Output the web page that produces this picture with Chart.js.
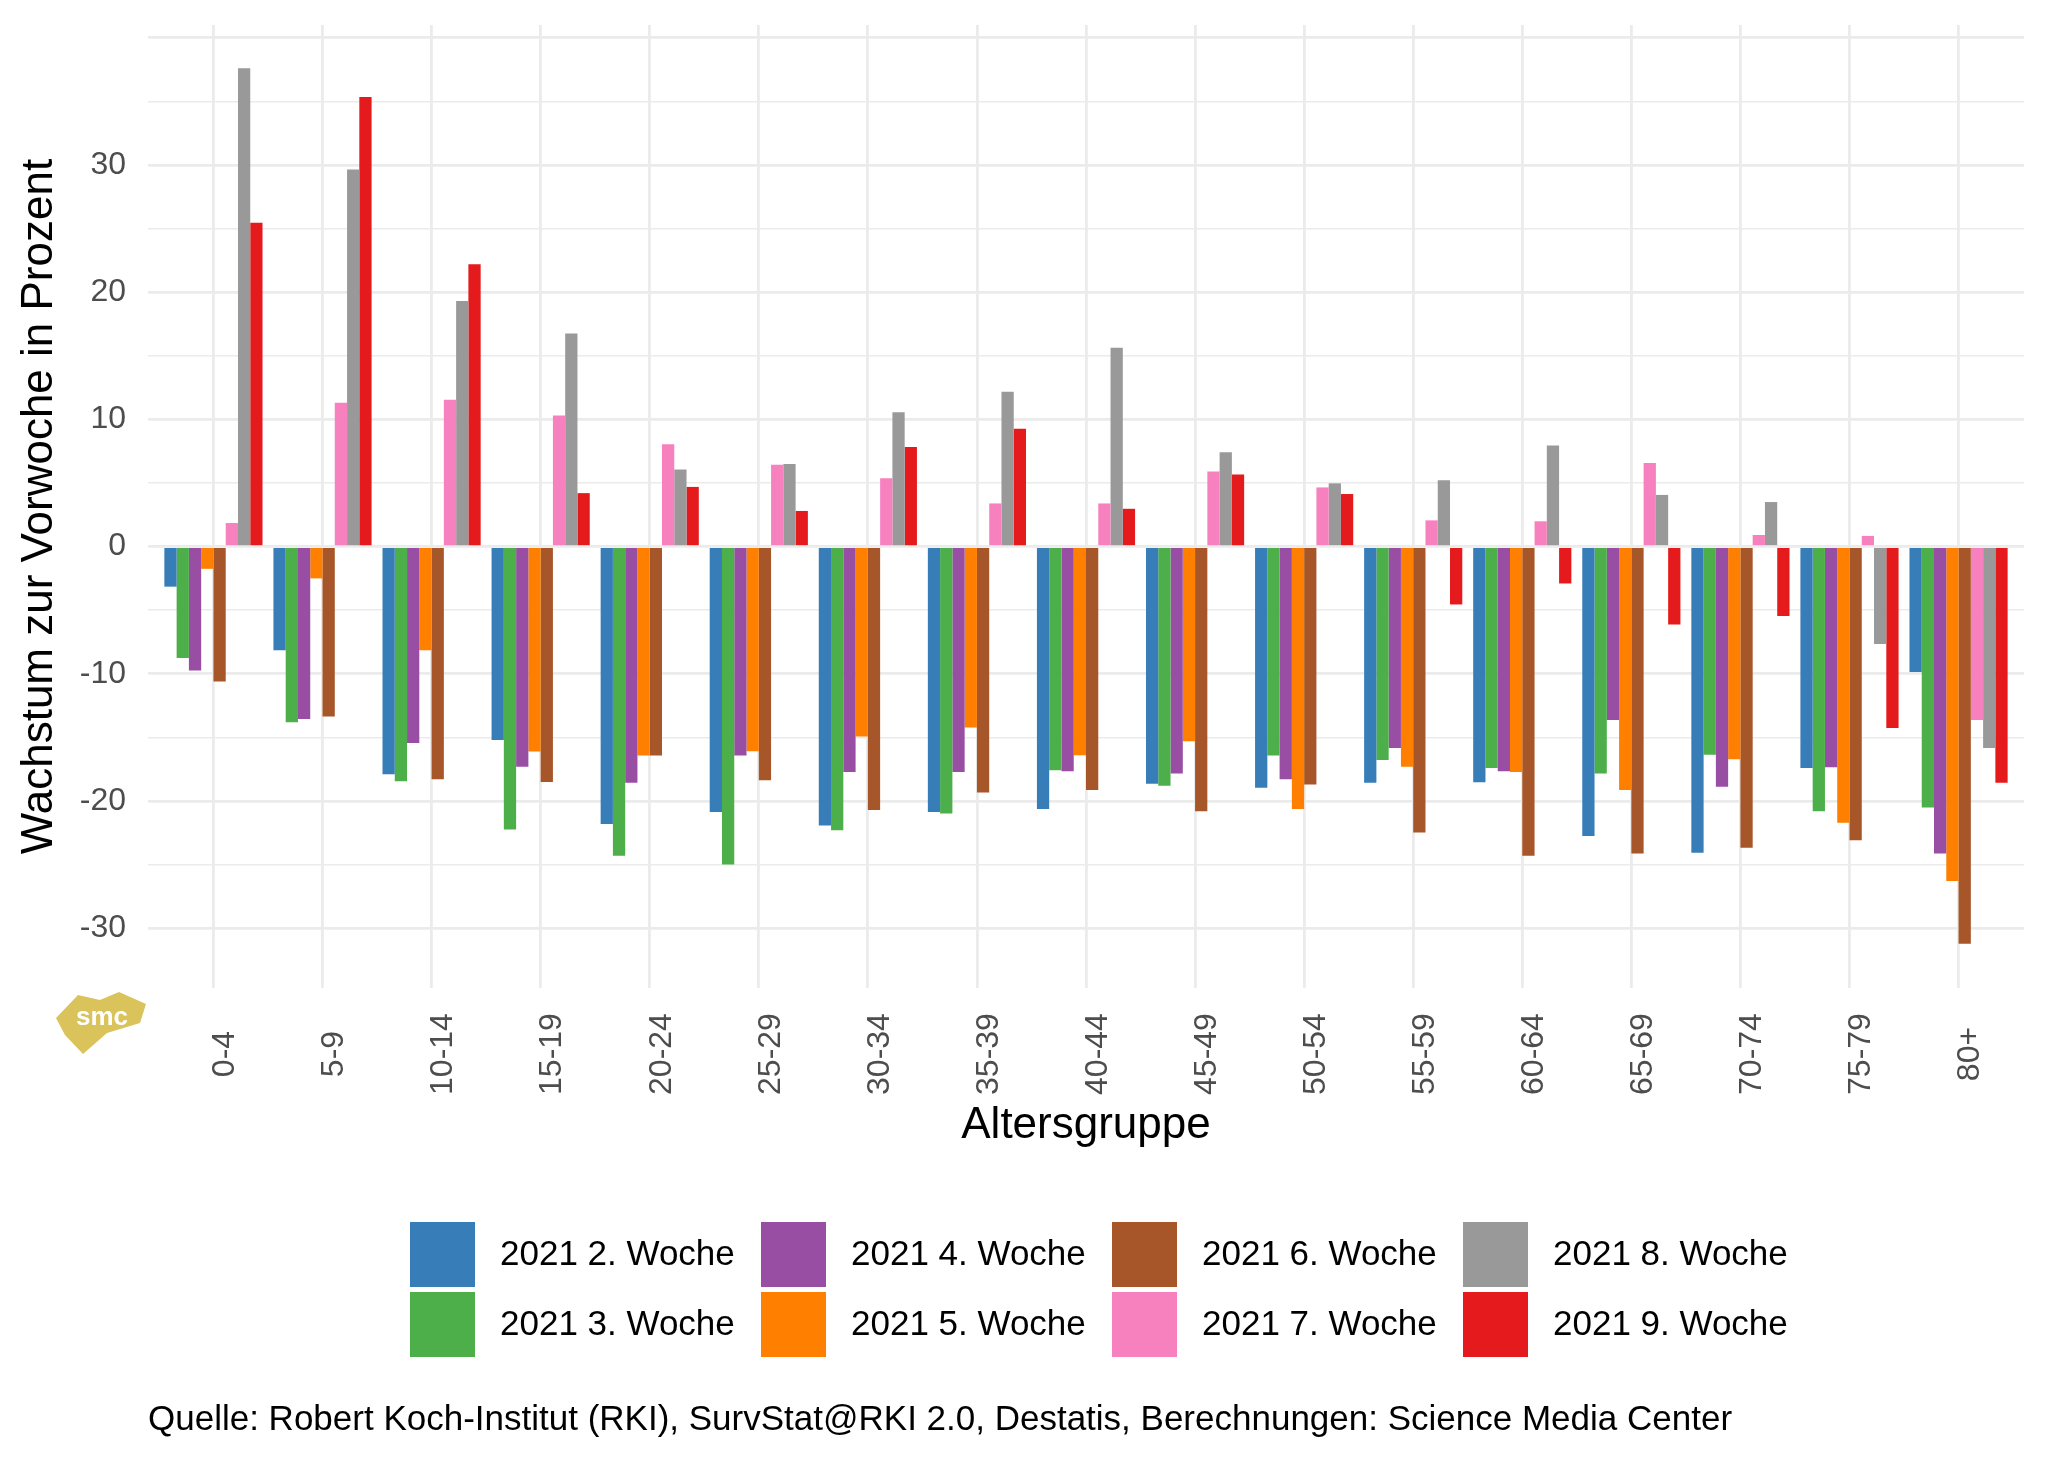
<!DOCTYPE html>
<html>
<head>
<meta charset="utf-8">
<script src="https://cdn.jsdelivr.net/npm/chart.js@4.4.1/dist/chart.umd.min.js"></script>
<style>
  body { margin: 0; background: #fff; }
  canvas { display: block; }
</style>
</head>
<body>
<canvas id="growthChart" width="2048" height="1462"></canvas>
<script>
const ageGroups = ["0-4", "5-9", "10-14", "15-19", "20-24", "25-29", "30-34", "35-39", "40-44",
  "45-49", "50-54", "55-59", "60-64", "65-69", "70-74", "75-79", "80+"];

const weekLabels = ["2021 2. Woche", "2021 3. Woche", "2021 4. Woche", "2021 5. Woche",
  "2021 6. Woche", "2021 7. Woche", "2021 8. Woche", "2021 9. Woche"];

const week2 = [-3.15, -8.15, -17.9, -15.2, -21.8, -20.87, -21.92, -20.87, -20.63, -18.64, -18.95, -18.57, -18.53, -22.76, -24.06, -17.41, -9.86];
const week3 = [-8.75, -13.8, -18.45, -22.25, -24.3, -25.0, -22.3, -20.98, -17.59, -18.81, -16.43, -16.78, -17.41, -17.83, -16.36, -20.8, -20.52];
const week4 = [-9.75, -13.55, -15.45, -17.3, -18.57, -16.43, -17.73, -17.73, -17.66, -17.83, -18.29, -15.84, -17.66, -13.64, -18.88, -17.34, -24.13];
const week5 = [-1.75, -2.5, -8.15, -16.1, -16.43, -16.08, -14.93, -14.23, -16.4, -15.31, -20.63, -17.31, -17.73, -19.13, -16.71, -21.71, -26.29];
const week6 = [-10.6, -13.35, -18.3, -18.5, -16.43, -18.36, -20.7, -19.34, -19.13, -20.8, -18.71, -22.48, -24.3, -24.13, -23.67, -23.08, -31.22];
const week7 = [1.85, 11.3, 11.55, 10.3, 8.04, 6.43, 5.38, 3.39, 3.39, 5.91, 4.65, 2.06, 1.99, 6.57, 0.91, 0.84, -13.64];
const week8 = [37.6, 29.65, 19.3, 16.75, 6.05, 6.5, 10.56, 12.17, 15.63, 7.41, 4.97, 5.21, 7.94, 4.06, 3.5, -7.66, -15.84];
const week9 = [25.45, 35.35, 22.2, 4.2, 4.69, 2.8, 7.83, 9.27, 2.97, 5.66, 4.13, -4.55, -2.9, -6.12, -5.45, -14.27, -18.57];

const yTickValues = [-30, -25, -20, -15, -10, -5, 0, 5, 10, 15, 20, 25, 30, 35, 40];
const yTickLabels = ["-30", "-20", "-10", "0", "10", "20", "30"];

const seriesValues = [week2, week3, week4, week5, week6, week7, week8, week9];
const colors = ["#377EB8", "#4DAF4A", "#984EA3", "#FF7F00", "#A65628", "#F781BF", "#999999", "#E41A1C"];

const FONT = "'Liberation Sans', Arial, Helvetica, sans-serif";
const GRID = "#EBEBEB";

const datasets = seriesValues.map((vals, i) => ({
  label: weekLabels[i],
  data: vals.map((v, j) => ({ x: j, y: v })),
  backgroundColor: colors[i],
  borderWidth: 0,
  categoryPercentage: 0.9,
  barPercentage: 1.0
}));

// legend, x labels, caption and logo drawn by hand (ggplot-like layout)
const extras = {
  id: "extras",
  afterDraw(chart) {
    const ctx = chart.ctx;
    const xs = chart.scales.x;
    const area = chart.chartArea;
    ctx.save();

    // x tick labels, rotated, centred
    ctx.fillStyle = "#4D4D4D";
    ctx.font = "32px " + FONT;
    ctx.textAlign = "center";
    ctx.textBaseline = "middle";
    ageGroups.forEach((g, i) => {
      const px = xs.getPixelForValue(i);
      ctx.save();
      ctx.translate(px + 12, 1054);
      ctx.rotate(-Math.PI / 2);
      ctx.fillText(g, 0, 0);
      ctx.restore();
    });

    // x title
    ctx.fillStyle = "#000";
    ctx.font = "44px " + FONT;
    ctx.fillText("Altersgruppe", (area.left + area.right) / 2, 1126);

    // legend, filled by column
    ctx.font = "35px " + FONT;
    ctx.textAlign = "left";
    for (let c = 0; c < 4; c++) {
      for (let r = 0; r < 2; r++) {
        const k = c * 2 + r;
        const kx = 410 + c * 351;
        const ky = 1222 + r * 70;
        ctx.fillStyle = colors[k];
        ctx.fillRect(kx, ky, 65, 65);
        ctx.fillStyle = "#000";
        ctx.fillText(weekLabels[k], kx + 90, ky + 33);
      }
    }

    // caption
    ctx.font = "35px " + FONT;
    ctx.textBaseline = "alphabetic";
    ctx.fillText("Quelle: Robert Koch-Institut (RKI), SurvStat@RKI 2.0, Destatis, Berechnungen: Science Media Center", 148, 1430);

    // smc logo
    ctx.fillStyle = "#D9C35A";
    ctx.beginPath();
    ctx.moveTo(56, 1018);
    ctx.lineTo(78, 995);
    ctx.lineTo(100, 1000);
    ctx.lineTo(119, 992);
    ctx.lineTo(146, 1004);
    ctx.lineTo(140, 1023);
    ctx.lineTo(107, 1033);
    ctx.lineTo(83, 1054);
    ctx.lineTo(65, 1035);
    ctx.closePath();
    ctx.fill();
    ctx.fillStyle = "#FFFFFF";
    ctx.font = "bold 26px " + FONT;
    ctx.textAlign = "center";
    ctx.textBaseline = "middle";
    ctx.fillText("smc", 102, 1018);

    ctx.restore();
  }
};

const cty = document.getElementById("growthChart").getContext("2d");

new Chart(cty, {
  type: "bar",
  data: { datasets: datasets },
  plugins: [extras],
  options: {
    responsive: false,
    animation: false,
    devicePixelRatio: 1,
    layout: { padding: { left: 0, right: 24, top: 25, bottom: 0 } },
    plugins: {
      legend: { display: false },
      tooltip: { enabled: false }
    },
    scales: {
      x: {
        type: "linear",
        min: -0.6,
        max: 16.6,
        offset: false,
        afterBuildTicks: (scale) => {
          scale.ticks = ageGroups.map((g, i) => ({ value: i }));
        },
        afterFit: (scale) => {
          scale.height = 474;
          scale.paddingLeft = 0;
          scale.paddingRight = 0;
        },
        ticks: { display: false },
        border: { display: false },
        grid: { color: GRID, lineWidth: 2.8, drawTicks: false, offset: false }
      },
      y: {
        min: -34.7,
        max: 41.0,
        afterBuildTicks: (scale) => {
          scale.ticks = yTickValues.map(v => ({ value: v }));
        },
        afterFit: (scale) => {
          scale.width = 148;
          scale.paddingTop = 0;
          scale.paddingBottom = 0;
        },
        ticks: {
          padding: 22,
          color: "#4D4D4D",
          font: { family: FONT, size: 32 },
          callback: function (value) {
            const s = String(value);
            return yTickLabels.includes(s) ? s : "";
          }
        },
        border: { display: false },
        grid: {
          color: GRID,
          drawTicks: false,
          lineWidth: (c) => (c.tick && c.tick.value % 10 === 0 ? 2.8 : 1.6)
        },
        title: {
          display: true,
          text: "Wachstum zur Vorwoche in Prozent",
          color: "#000",
          font: { family: FONT, size: 44 },
          padding: { top: 13, bottom: 0 }
        }
      }
    }
  }
});
</script>
</body>
</html>
